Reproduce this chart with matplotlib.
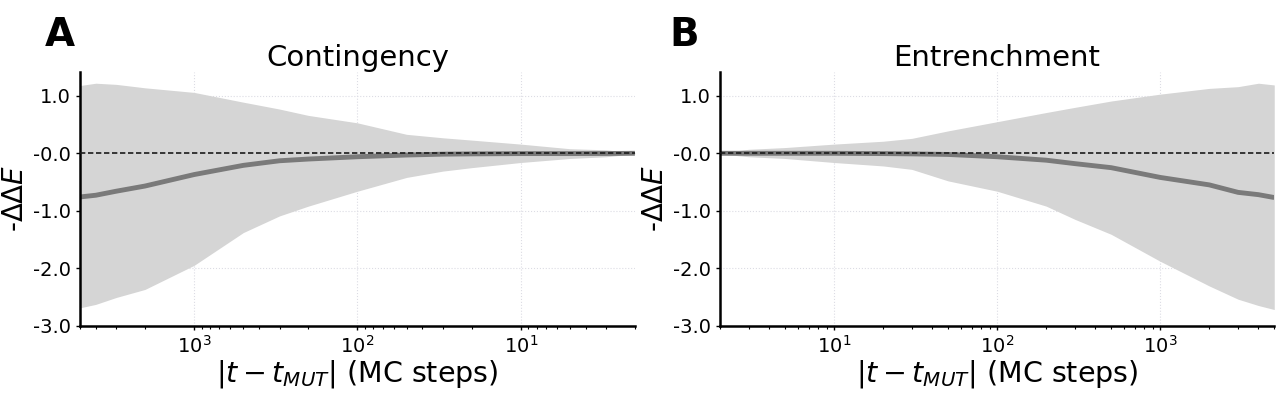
import matplotlib
matplotlib.use("Agg")
import matplotlib.pyplot as plt
from matplotlib.ticker import FixedLocator, FixedFormatter, LogLocator, NullFormatter

# ---- data ----
t_steps = [2, 3, 5, 10, 20, 30, 50, 100, 200, 300, 500, 1000, 2000, 3000, 4000, 5000]

cont_mean  = [0.0, -0.003, -0.005, -0.005, -0.01, -0.015, -0.03, -0.06, -0.10, -0.13, -0.21, -0.37, -0.57, -0.66, -0.73, -0.76]
cont_upper = [0.01, 0.06, 0.08, 0.16, 0.23, 0.27, 0.33, 0.53, 0.66, 0.77, 0.89, 1.06, 1.14, 1.20, 1.22, 1.18]
cont_lower = [-0.01, -0.06, -0.09, -0.16, -0.25, -0.31, -0.42, -0.66, -0.92, -1.09, -1.38, -1.95, -2.37, -2.51, -2.63, -2.69]

ent_mean  = [0.0, 0.0, 0.0, 0.0, -0.005, -0.01, -0.02, -0.06, -0.12, -0.18, -0.25, -0.42, -0.55, -0.68, -0.72, -0.77]
ent_upper = [0.01, 0.07, 0.10, 0.16, 0.21, 0.26, 0.39, 0.55, 0.71, 0.80, 0.91, 1.03, 1.13, 1.16, 1.22, 1.19]
ent_lower = [-0.01, -0.06, -0.09, -0.16, -0.22, -0.28, -0.48, -0.66, -0.92, -1.15, -1.41, -1.88, -2.31, -2.54, -2.65, -2.72]

y_ticks = [1.0, 0.0, -1.0, -2.0, -3.0]
y_ticklabels = ["1.0", "-0.0", "-1.0", "-2.0", "-3.0"]
titles = ["Contingency", "Entrenchment"]
panel_letters = ["A", "B"]

plt.rcParams['font.family'] = ['DejaVu Sans']

fig = plt.figure(figsize=(12.8, 4.03), dpi=100)
ax_left = fig.add_axes([0.0625, 0.192, 0.4335, 0.630])
ax_right = fig.add_axes([0.5625, 0.192, 0.4330, 0.630])

panels = [
    (ax_left, cont_mean, cont_upper, cont_lower, True),
    (ax_right, ent_mean, ent_upper, ent_lower, False),
]

for i, (ax, mean, upper, lower, invert) in enumerate(panels):
    ax.set_xscale('log')
    ax.fill_between(t_steps, lower, upper, color='#d5d5d5', linewidth=0, zorder=1)
    ax.plot(t_steps, mean, color='#7a7a7a', lw=3.5, zorder=2, solid_capstyle='butt')
    ax.axhline(0, color='#1a1a1a', lw=1.2, ls=(0, (3.2, 1.6)), zorder=3)
    if invert:
        ax.set_xlim(5000, 2)
    else:
        ax.set_xlim(2, 5000)
    ax.set_ylim(-3.0, 1.42)
    ax.yaxis.set_major_locator(FixedLocator(y_ticks))
    ax.yaxis.set_major_formatter(FixedFormatter(y_ticklabels))
    ax.xaxis.set_major_locator(LogLocator(base=10, numticks=10))
    ax.xaxis.set_minor_locator(LogLocator(base=10, subs=range(2, 10), numticks=20))
    ax.xaxis.set_minor_formatter(NullFormatter())
    ax.grid(True, which='major', color='#dcdce4', lw=0.8, ls=':', zorder=0)
    ax.set_axisbelow(True)
    for s in ['top', 'right']:
        ax.spines[s].set_visible(False)
    for s in ['left', 'bottom']:
        ax.spines[s].set_linewidth(1.8)
        ax.spines[s].set_color('black')
    ax.tick_params(axis='both', which='major', labelsize=14, length=3, width=1)
    ax.tick_params(axis='y', which='major', pad=3.5)
    ax.tick_params(axis='x', which='minor', length=2, width=0.8)
    ax.set_title(titles[i], fontsize=21, pad=3)
    ax.set_xlabel(r'$|t - t_{MUT}|$ (MC steps)', fontsize=20.5, labelpad=1)
    ax.set_ylabel(r'-$\Delta\Delta E$', fontsize=20, labelpad=3)

fig.text(0.035, 0.885, panel_letters[0], fontsize=28, fontweight='bold', ha='left', va='baseline')
fig.text(0.523, 0.885, panel_letters[1], fontsize=28, fontweight='bold', ha='left', va='baseline')

fig.savefig('out.png', dpi=100)
